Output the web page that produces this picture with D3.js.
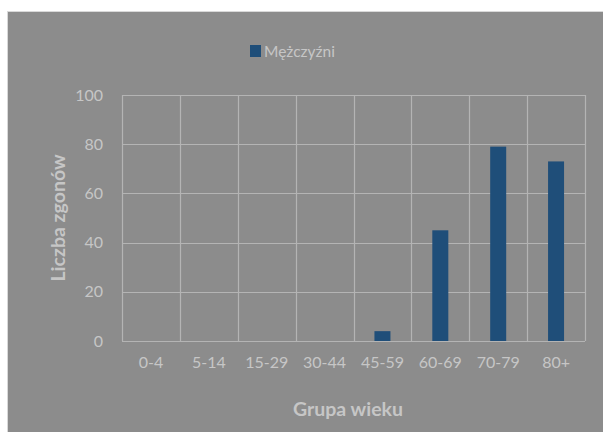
<!DOCTYPE html>
<html>
<head>
<meta charset="utf-8">
<script src="https://cdn.jsdelivr.net/npm/d3@7"></script>
<style>
  body { margin: 0; background: #fff; }
  svg { display: block; font-family: Lato, "Open Sans", sans-serif; }
</style>
</head>
<body>
<div id="chart"></div>
<script>
// data
const groups = ['0-4', '5-14', '15-29', '30-44', '45-59', '60-69', '70-79', '80+'];
const deaths = [0, 0, 0, 0, 4, 45, 79, 73];
const yTicks = [0, 20, 40, 60, 80, 100];
const seriesName = 'Mężczyźni';

const width = 603, height = 432;
const margin = { left: 122, right: 18, top: 95, bottom: 91 };
const textColor = '#c6c6c6';
const barColor = '#1f4e79';

const svg = d3.select('#chart').append('svg')
  .attr('width', width)
  .attr('height', height);

// chart background box
svg.append('rect')
  .attr('x', 7.5).attr('y', 11.5)
  .attr('width', width).attr('height', height)
  .attr('fill', '#8c8c8c')
  .attr('stroke', '#d9d9d9');

const x = d3.scaleBand()
  .domain(groups)
  .range([margin.left, width - margin.right]);

const y = d3.scaleLinear()
  .domain([0, 100])
  .range([height - margin.bottom, margin.top]);

// horizontal grid
svg.append('g')
  .selectAll('line')
  .data(yTicks)
  .enter()
  .append('line')
    .attr('x1', margin.left)
    .attr('x2', width - margin.right)
    .attr('y1', d => Math.round(y(d)) + 0.5)
    .attr('y2', d => Math.round(y(d)) + 0.5)
    .attr('stroke', '#b4b4b4')
    .attr('stroke-width', 1.2);

// vertical grid at category borders
const borders = groups.map(g => x(g)).concat([x.range()[1]]);
svg.append('g')
  .selectAll('line')
  .data(borders)
  .enter()
  .append('line')
    .attr('x1', d => Math.round(d) + 0.5)
    .attr('x2', d => Math.round(d) + 0.5)
    .attr('y1', y(100))
    .attr('y2', y(0))
    .attr('stroke', '#b4b4b4')
    .attr('stroke-width', 1.2);

// bars
const barW = 16;
svg.append('g')
  .selectAll('rect')
  .data(groups)
  .enter()
  .append('rect')
    .attr('x', (d) => x(d) + x.bandwidth() / 2 - barW / 2)
    .attr('y', (d, i) => y(deaths[i]))
    .attr('width', barW)
    .attr('height', (d, i) => y(0) - y(deaths[i]))
    .attr('fill', barColor);

// y axis labels
const yAxis = d3.axisLeft(y).tickValues(yTicks).tickSize(0).tickPadding(19);
svg.append('g')
  .attr('transform', `translate(${margin.left}, 0)`)
  .call(yAxis)
  .call(g => g.select('.domain').remove())
  .selectAll('text')
    .attr('fill', textColor)
    .style('font-size', '16px')
    .style('font-family', 'Lato, sans-serif');

// x axis labels
const xAxis = d3.axisBottom(x).tickSize(0).tickPadding(16);
svg.append('g')
  .attr('transform', `translate(0, ${y(0)})`)
  .call(xAxis)
  .call(g => g.select('.domain').remove())
  .selectAll('text')
    .attr('fill', textColor)
    .style('font-size', '16px')
    .style('font-family', 'Lato, sans-serif');

// axis titles
svg.append('text')
  .attr('x', 348).attr('y', 416)
  .attr('text-anchor', 'middle')
  .attr('fill', textColor)
  .style('font-size', '19.5px')
  .style('font-weight', 'bold')
  .text('Grupa wieku');

svg.append('text')
  .attr('transform', 'translate(65, 218) rotate(-90)')
  .attr('text-anchor', 'middle')
  .attr('fill', textColor)
  .style('font-size', '19.5px')
  .style('font-weight', 'bold')
  .text('Liczba zgonów');

// legend
const legend = svg.append('g').attr('id', 'legend');
legend.append('rect')
  .attr('x', 250).attr('y', 45)
  .attr('width', 11).attr('height', 12)
  .attr('fill', barColor);
legend.append('text')
  .attr('x', 264).attr('y', 57)
  .attr('fill', textColor)
  .style('font-size', '15.5px')
  .text(seriesName);
</script>
</body>
</html>
